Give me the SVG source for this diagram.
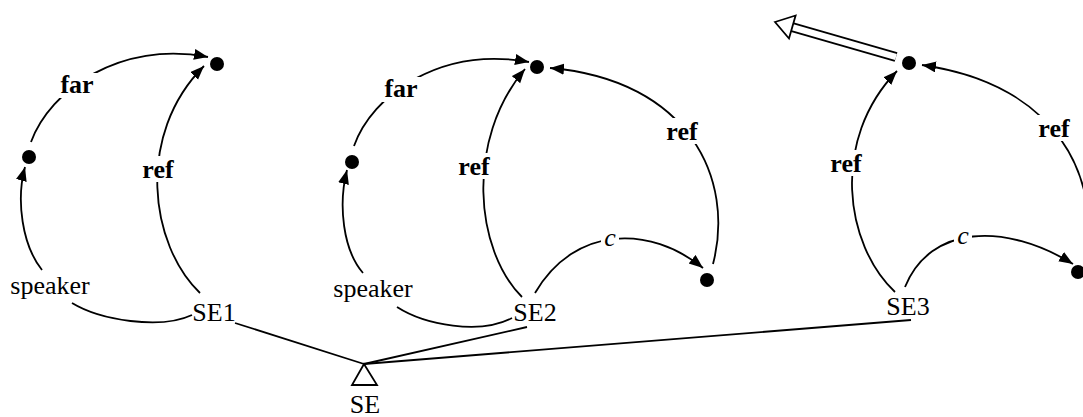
<svg xmlns="http://www.w3.org/2000/svg" width="1083" height="417" viewBox="0 0 1083 417">
<defs>
<marker id="ah" markerUnits="userSpaceOnUse" markerWidth="16" markerHeight="12" refX="14" refY="5.5" orient="auto">
<path d="M0,0 L14,5.5 L0,11 z" fill="#000"/>
</marker>
<style>
.c{fill:none;stroke:#000;stroke-width:1.8}
.a{marker-end:url(#ah)}
.bg{fill:#fff;stroke:none}
.t{font-family:"Liberation Serif","Times New Roman",serif;font-size:26px;fill:#000;text-anchor:middle}
.b{font-weight:bold}
.i{font-style:italic}
.d{fill:#000}
</style>
</defs>
<rect width="1083" height="417" fill="#fff"/>
<g id="connectors">
<path class="c a" d="M42,270 C22,245 16,200 25,167"/>
<path class="c a" d="M31,142 C50,90 120,40 208,57"/>
<path class="c a" d="M200,293 C150,245 135,135 204,66"/>
<path class="c" d="M72,303 C100,320 160,330 192,315"/>
<path class="c" d="M235,323 L364,364"/>
<path class="c a" d="M363,273 C343,250 338,205 347,170"/>
<path class="c a" d="M354,146 C372,95 440,46 529,62"/>
<path class="c a" d="M522,297 C475,250 465,140 525,69"/>
<path class="c a" d="M713,264 C735,180 690,80 550,68"/>
<path class="c a" d="M535,293 C575,225 650,225 703,268"/>
<path class="c" d="M397,307 C425,325 480,335 512,318"/>
<path class="c" d="M527,327 L364,364"/>
<path class="c a" d="M895,292 C845,245 830,140 897,71"/>
<path class="c a" d="M1086,258 C1100,180 1060,85 922,65"/>
<path class="c a" d="M905,287 C930,225 1005,222 1073,264"/>
<path class="c" d="M911,320 L364,364"/>
<path d="M896,57 L790,26.5" stroke="#000" stroke-width="10" fill="none"/>
<path d="M896,57 L790,26.5" stroke="#fff" stroke-width="6.4" fill="none"/>
<path d="M775,22 L795.6,15.5 L789,38.5 z" fill="#fff" stroke="#000" stroke-width="1.8" stroke-linejoin="miter"/>
<rect class="bg" x="57" y="73" width="40" height="25"/>
<rect class="bg" x="138" y="156" width="40" height="26"/>
<rect class="bg" x="381" y="77" width="40" height="25"/>
<rect class="bg" x="454" y="153" width="40" height="26"/>
<rect class="bg" x="662" y="118" width="40" height="26"/>
<rect class="bg" x="601" y="230" width="18" height="20"/>
<rect class="bg" x="826" y="150" width="40" height="26"/>
<rect class="bg" x="1034" y="115" width="40" height="26"/>
<rect class="bg" x="954" y="228" width="18" height="20"/>
<text class="t b" x="77" y="93">far</text>
<text class="t b" x="158" y="178">ref</text>
<text class="t b" x="401" y="97">far</text>
<text class="t b" x="474" y="175">ref</text>
<text class="t b" x="682" y="140">ref</text>
<text class="t i" x="610" y="246">c</text>
<text class="t b" x="846" y="172">ref</text>
<text class="t b" x="1054" y="137">ref</text>
<text class="t i" x="963" y="244">c</text>
</g>
<g id="dot1a"><circle class="d" cx="217" cy="64" r="7"/></g>
<g id="dot1b"><circle class="d" cx="29" cy="157" r="7"/></g>
<g id="speaker1"><text class="t" x="50" y="294">speaker</text></g>
<g id="SE1"><text class="t" x="214" y="321">SE1</text></g>
<g id="dot2a"><circle class="d" cx="537" cy="67" r="7"/></g>
<g id="dot2b"><circle class="d" cx="352" cy="162" r="7"/></g>
<g id="dot2c"><circle class="d" cx="707" cy="280" r="7"/></g>
<g id="speaker2"><text class="t" x="373" y="297">speaker</text></g>
<g id="SE2"><text class="t" x="535" y="321">SE2</text></g>
<g id="dot3a"><circle class="d" cx="909" cy="63" r="7"/></g>
<g id="dot3c"><circle class="d" cx="1078" cy="272" r="7"/></g>
<g id="SE3"><text class="t" x="908" y="315">SE3</text></g>
<g id="SE">
<path d="M364,364 L352,385 L377,385 z" fill="#fff" stroke="#000" stroke-width="1.8"/>
<text class="t" x="365" y="413">SE</text>
</g>
</svg>
